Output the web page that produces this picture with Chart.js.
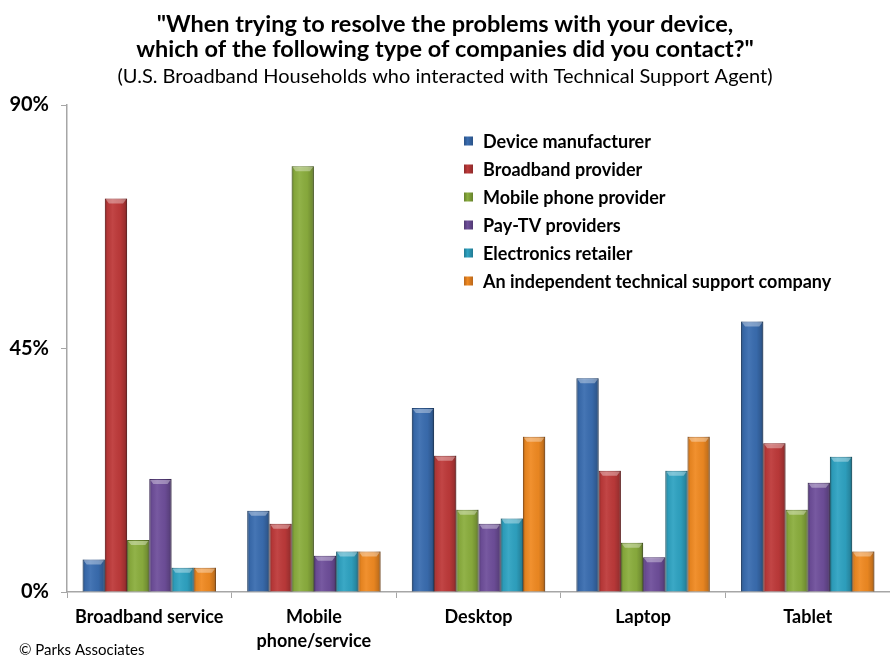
<!DOCTYPE html>
<html>
<head>
<meta charset="utf-8">
<script src="https://cdn.jsdelivr.net/npm/chart.js@4"></script>
<style>
  html, body { margin: 0; padding: 0; background: #fff; overflow: hidden; }
  #wrap { width: 890px; height: 657px; }
</style>
</head>
<body>
<div id="wrap"><canvas id="chart" width="890" height="657"></canvas></div>
<script>
// chart data (percent of households)
const categories = ['Broadband service', ['Mobile', 'phone/service'], 'Desktop', 'Laptop', 'Tablet'];
const seriesNames = ['Device manufacturer', 'Broadband provider', 'Mobile phone provider',
  'Pay-TV providers', 'Electronics retailer', 'An independent technical support company'];
const deviceManufacturer = [6, 15, 34, 39.5, 50];
const broadbandProvider  = [72.7, 12.6, 25.2, 22.4, 27.5];
const mobilePhoneProv    = [9.6, 78.7, 15.2, 9.1, 15.2];
const payTvProviders     = [20.9, 6.7, 12.6, 6.4, 20.2];
const electronicsRetail  = [4.5, 7.5, 13.6, 22.4, 25];
const independentSupport = [4.5, 7.5, 28.7, 28.7, 7.5];
const yTicks = [0, 45, 90];

const fills   = ['#3A6DB0', '#BE3A3A', '#8BAE3E', '#6F4F9B', '#2FA3C2', '#F08A22'];
const borders = ['#2A5287', '#8E2A2A', '#66822C', '#513973', '#217A92', '#B9661A'];
const values = [deviceManufacturer, broadbandProvider, mobilePhoneProv,
  payTvProviders, electronicsRetail, independentSupport];

// shading on top of the bars, like the excel bevel look
const barShade = {
  id: 'barShade',
  afterDatasetsDraw(chart) {
    const ctx = chart.ctx;
    chart.data.datasets.forEach((ds, i) => {
      chart.getDatasetMeta(i).data.forEach(bar => {
        const left = bar.x - bar.width / 2;
        const w = bar.width;
        const top = bar.y;
        const h = bar.base - bar.y;
        ctx.save();
        const g = ctx.createLinearGradient(left, 0, left + w, 0);
        g.addColorStop(0, 'rgba(0,0,0,0.28)');
        g.addColorStop(0.12, 'rgba(0,0,0,0.05)');
        g.addColorStop(0.35, 'rgba(255,255,255,0.06)');
        g.addColorStop(0.7, 'rgba(0,0,0,0.04)');
        g.addColorStop(0.9, 'rgba(0,0,0,0.18)');
        g.addColorStop(1, 'rgba(0,0,0,0.38)');
        ctx.fillStyle = g;
        ctx.fillRect(left, top, w, h);
        // top bevel
        ctx.beginPath();
        ctx.moveTo(left + 1, top + 1);
        ctx.lineTo(left + w - 1, top + 1);
        ctx.lineTo(left + w - 4, top + 5);
        ctx.lineTo(left + 4, top + 5);
        ctx.closePath();
        ctx.fillStyle = 'rgba(255,255,255,0.35)';
        ctx.fill();
        ctx.restore();
      });
    });
  }
};

// legend inside the plot + copyright line
const extras = {
  id: 'extras',
  afterDraw(chart) {
    const ctx = chart.ctx;
    ctx.save();
    ctx.textBaseline = 'middle';
    ctx.font = 'bold 18px Lato';
    chart.data.datasets.forEach((ds, i) => {
      const y = 141 + i * 28;
      const bx = 464;
      const grd = ctx.createLinearGradient(bx, 0, bx + 9, 0);
      grd.addColorStop(0, borders[i]);
      grd.addColorStop(0.4, ds.backgroundColor);
      grd.addColorStop(1, borders[i]);
      ctx.fillStyle = grd;
      ctx.fillRect(bx, y - 4.5, 9, 9);
      ctx.fillStyle = '#000';
      ctx.fillText(ds.label, 483, y + 1);
    });
    ctx.font = '15px Lato';
    ctx.fillText('\u00A9 Parks Associates', 19, 650);
    ctx.restore();
  }
};

const datasets = seriesNames.map((name, i) => ({
  label: name,
  data: values[i],
  backgroundColor: fills[i],
  borderColor: borders[i],
  borderWidth: 1,
  categoryPercentage: 0.81,
  barPercentage: 1.0
}));

new Chart(document.getElementById('chart'), {
  type: 'bar',
  data: { labels: categories, datasets: datasets },
  options: {
    responsive: false,
    animation: false,
    layout: { padding: { left: 0, right: 0, top: 0, bottom: 0 } },
    plugins: {
      legend: { display: false },
      tooltip: { enabled: false },
      title: {
        display: true,
        text: ['"When trying to resolve the problems with your device,',
               'which of the following type of companies did you contact?"'],
        color: '#000',
        font: { family: 'Lato', size: 23.5, weight: 'bold', lineHeight: '25px' },
        padding: { top: 12, bottom: 3 }
      },
      subtitle: {
        display: true,
        text: '(U.S. Broadband Households who interacted with Technical Support Agent)',
        color: '#000',
        font: { family: 'Lato', size: 20, lineHeight: '24px' },
        padding: { top: 0, bottom: 16 }
      }
    },
    scales: {
      x: {
        grid: { display: true, drawOnChartArea: false, tickLength: 6, color: '#A6A6A6', offset: true },
        border: { color: '#A6A6A6', width: 1.5 },
        ticks: {
          color: '#000',
          font: { family: 'Lato', size: 18, weight: 'bold', lineHeight: '24px' },
          padding: 7,
          maxRotation: 0,
          autoSkip: false
        },
        afterFit(scale) { scale.height = 65; }
      },
      y: {
        min: 0,
        max: 90,
        afterBuildTicks(scale) { scale.ticks = yTicks.map(v => ({ value: v })); },
        grid: { display: true, drawOnChartArea: false, tickLength: 6, color: '#A6A6A6' },
        border: { color: '#A6A6A6', width: 1.5 },
        ticks: {
          color: '#000',
          font: { family: 'Lato', size: 20, weight: 'bold' },
          padding: 12,
          callback: v => v + '%'
        },
        afterFit(scale) { scale.width = 67; }
      }
    }
  },
  plugins: [barShade, extras]
});
</script>
</body>
</html>
